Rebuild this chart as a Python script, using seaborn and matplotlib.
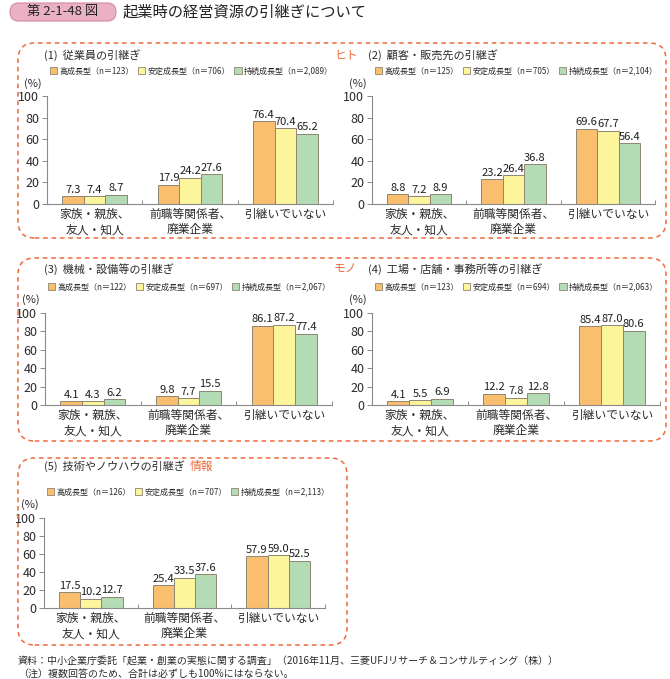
import pandas as pd
import seaborn as sns
import matplotlib.pyplot as plt
from matplotlib.patches import FancyBboxPatch, Patch

W, H = 670, 679

# -------------------- data --------------------
categories = ["家族・親族、\n友人・知人", "前職等関係者、\n廃業企業", "引継いでいない"]
groups = ["高成長型", "安定成長型", "持続成長型"]
colors = ["#F9BE6E", "#FDF59B", "#B3DCB5"]

titles = ["(1)  従業員の引継ぎ", "(2)  顧客・販売先の引継ぎ", "(3)  機械・設備等の引継ぎ",
          "(4)  工場・店舗・事務所等の引継ぎ", "(5)  技術やノウハウの引継ぎ"]

n1 = ["123", "706", "2,089"]
n2 = ["125", "705", "2,104"]
n3 = ["122", "697", "2,067"]
n4 = ["123", "694", "2,063"]
n5 = ["126", "707", "2,113"]

# values per group: [high, stable, sustained], each over the 3 categories
p1 = [[7.3, 17.9, 76.4], [7.4, 24.2, 70.4], [8.7, 27.6, 65.2]]
p2 = [[8.8, 23.2, 69.6], [7.2, 26.4, 67.7], [8.9, 36.8, 56.4]]
p3 = [[4.1, 9.8, 86.1], [4.3, 7.7, 87.2], [6.2, 15.5, 77.4]]
p4 = [[4.1, 12.2, 85.4], [5.5, 7.8, 87.0], [6.9, 12.8, 80.6]]
p5 = [[17.5, 25.4, 57.9], [10.2, 33.5, 59.0], [12.7, 37.6, 52.5]]

yticks = [0, 20, 40, 60, 80, 100]

sns.set_theme(style="white")
plt.rcParams["font.family"] = ["Noto Sans CJK JP", "DejaVu Sans"]

fig = plt.figure(figsize=(W / 100, H / 100), dpi=100)
TXT = "#2B2B2B"
ACC = "#EE6A3A"


def fx(x):
    return x / W


def fy(y):
    return 1 - y / H


def ftext(x, y, s, **kw):
    kw.setdefault("color", TXT)
    kw.setdefault("va", "center")
    fig.text(fx(x), fy(y), s, **kw)


# (left, right, top(100), bottom(0)) in pixels, title y, legend y, data, n, title x
panels = [
    (47, 333, 96, 204, 55, 71, p1, n1, 44),
    (372, 655, 96, 204, 55, 71, p2, n2, 368),
    (45, 332, 313, 405, 269, 287, p3, n3, 44),
    (372, 660, 313, 405, 269, 287, p4, n4, 368),
    (44, 325, 518, 608, 466, 492, p5, n5, 44),
]

for i, (l, r, t, b, ty, ly, vals, ns, tx) in enumerate(panels):
    ax = fig.add_axes([fx(l), fy(b), (r - l) / W, (b - t) / H])
    df = pd.DataFrame({
        "cat": [c for g in groups for c in categories],
        "group": [g for g in groups for c in categories],
        "val": [v for row in vals for v in row],
    })
    sns.barplot(data=df, x="cat", y="val", hue="group", hue_order=groups,
                order=categories, palette=colors, saturation=1, width=0.68, gap=0,
                edgecolor="#8F8472", linewidth=0.7, legend=False, ax=ax)
    for cont in ax.containers:
        ax.bar_label(cont, fmt="%.1f", padding=1, fontsize=8, color="#1E1E1E")
    ax.set_xlim(-0.5, 2.5)
    ax.set_ylim(0, 100)
    ax.set_yticks(yticks)
    ax.set_xlabel("")
    ax.set_ylabel("")
    ax.tick_params(axis="y", labelsize=9, colors=TXT, direction="out", length=3.5,
                   width=0.7, pad=2, left=True, color="#8A8A8A")
    ax.tick_params(axis="x", labelsize=8.5, colors=TXT, length=0, pad=3)
    # small separators between categories
    ax.set_xticks([0.5, 1.5, 2.5], minor=True)
    ax.tick_params(axis="x", which="minor", direction="in", length=3, width=0.7,
                   color="#8A8A8A", bottom=True)
    for lab in ax.get_xticklabels():
        lab.set_linespacing(1.2)
    for s in ["top", "right"]:
        ax.spines[s].set_visible(False)
    for s in ["left", "bottom"]:
        ax.spines[s].set_color("#8A8A8A")
        ax.spines[s].set_linewidth(0.8)
    ax.patch.set_alpha(0)

    # panel title, legend, unit
    ftext(tx, ty, titles[i], fontsize=8)
    handles = [Patch(facecolor=c, edgecolor="#8F8472", linewidth=0.6) for c in colors]
    labels = [f"{g}（n＝{n}）" for g, n in zip(groups, ns)]
    fig.legend(handles, labels, loc="center left",
               bbox_to_anchor=(fx(l + 3), fy(ly)), ncol=3, frameon=False,
               fontsize=5.8, handlelength=0.9, handleheight=0.9,
               handletextpad=0.3, columnspacing=0.5, borderpad=0,
               borderaxespad=0, labelcolor=TXT)
    ftext(l - 23, ly + 13, "(%)", fontsize=8)

# resource tags
ftext(334, 55, "ヒト", fontsize=8.5, color=ACC)
ftext(334, 269, "モノ", fontsize=8.5, color=ACC)
ftext(190, 466, "情報", fontsize=8.5, color=ACC)

# dashed rounded frames
for (x0, y0, x1, y1) in [(18, 43, 666, 238), (18, 258, 666, 441), (18, 458, 347, 645)]:
    box = FancyBboxPatch((fx(x0), fy(y1)), fx(x1 - x0), (y1 - y0) / H,
                         boxstyle="round,pad=0,rounding_size=0.025",
                         transform=fig.transFigure, fill=False,
                         edgecolor=ACC, linewidth=1.1, linestyle=(0, (3, 2.5)))
    fig.add_artist(box)

# header
hdr = FancyBboxPatch((fx(10), fy(21)), fx(106), 18 / H,
                     boxstyle="round,pad=0,rounding_size=0.013",
                     transform=fig.transFigure, facecolor="#EAB0C4",
                     edgecolor="#D58AA5", linewidth=0.8)
fig.add_artist(hdr)
ftext(63, 12, "第 2-1-48 図", fontsize=9.5, ha="center", color="#222222")
ftext(123, 12, "起業時の経営資源の引継ぎについて", fontsize=11, color="#222222")

# footer
ftext(18, 661, "資料：中小企業庁委託「起業・創業の実態に関する調査」（2016年11月、三菱UFJリサーチ＆コンサルティング（株））",
      fontsize=7.2)
ftext(18, 674, "（注）複数回答のため、合計は必ずしも100%にはならない。", fontsize=7.2)

fig.savefig("out.png", dpi=100, facecolor="white")
